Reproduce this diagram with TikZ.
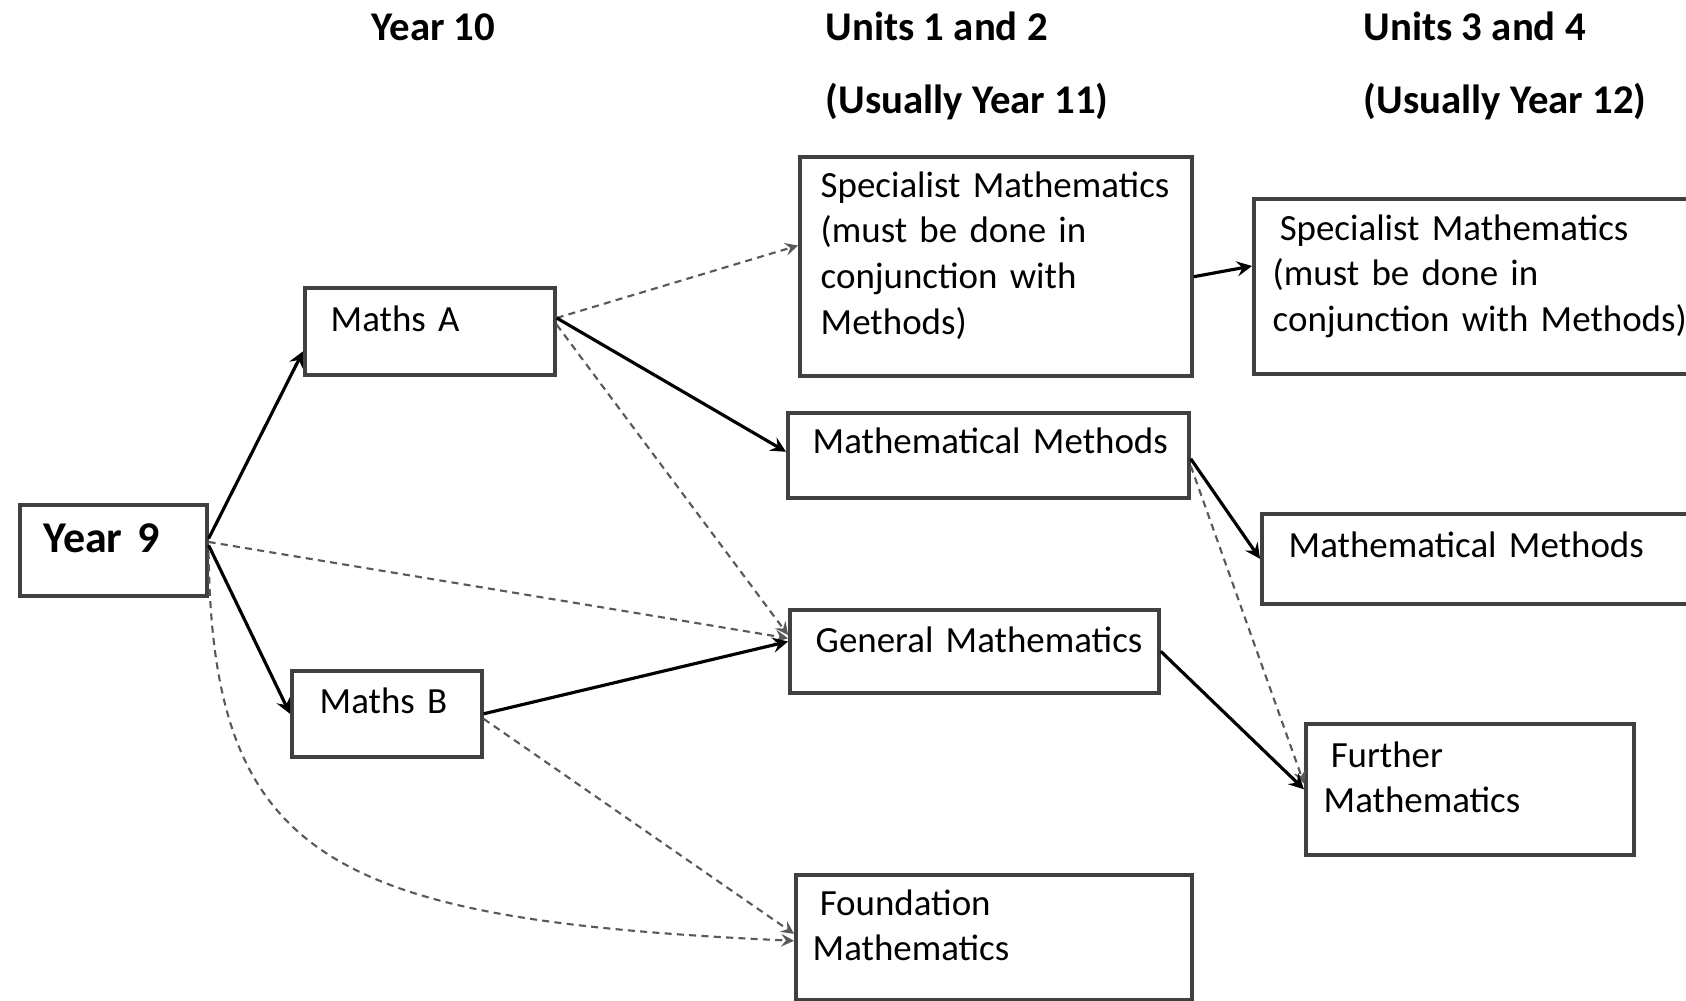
\documentclass[tikz,border=0pt]{standalone}
\usepackage{fontspec}
\setmainfont{Carlito}

\begin{document}
\begin{tikzpicture}[x=0.01cm, y=-0.01cm,
    box/.style={draw=black!75, line width=1pt, anchor=north west, inner sep=0pt},
    txt/.style={anchor=base west, inner sep=0pt, text width=5cm, align=left, font=\fontsize{10.5}{13.04}\selectfont},
    head/.style={anchor=base west, inner sep=0pt, font=\bfseries\fontsize{11.6}{14}\selectfont},
    link/.style={->, >=stealth, line width=0.9pt},
    maybe/.style={->, >=stealth, black!65, line width=0.6pt, dash pattern=on 2pt off 1.5pt}]
    \path[use as bounding box, fill=white] (0,0) rectangle (1686,1000);
    \clip (0,0) rectangle (1686,1000);

    \foreach \n/\x/\y/\w/\h in {year9/18/503/1.87/0.91, mathsA/303/286/2.50/0.87, mathsB/290/669/1.90/0.86,
        spec12/798/155/3.92/2.19, mm12/786/411/4.01/0.85, gen/788/608/3.69/0.83, found/794/873/3.96/1.25,
        spec34/1252/197/4.60/1.75, mm34/1260/512/4.50/0.90, further/1304/722/3.28/1.31} {
        \node[box, minimum width=\w cm, minimum height=\h cm] (\n) at (\x,\y) {};
    }

    \node[head] (h10) at (371,41) {Year 10};
    \node[head] (h12) at (825,41) {Units 1 and 2};
    \node[head] (h12b) at (825,113) {(Usually Year 11)};
    \node[head] (h34) at (1363,41) {Units 3 and 4};
    \node[head] (h34b) at (1363,113) {(Usually Year 12)};

    \node[txt, font=\bfseries\fontsize{12.5}{15}\selectfont] (year9t) at (43,552) {Year 9};
    \node[txt] (mathsAt) at (330,331) {Maths A};
    \node[txt] (mathsBt) at (319,713) {Maths B};
    \node[txt] (spec12t) at (820,197) {Specialist Mathematics\\(must be done in\\conjunction with\\Methods)};
    \node[txt] (mm12t) at (812,453) {Mathematical Methods};
    \node[txt] (gent) at (815,652) {General Mathematics};
    \node[txt] (foundt) at (812,915) {\hspace*{2pt}Foundation\\Mathematics};
    \node[txt] (spec34t) at (1272,240) {\hspace*{2pt}Specialist Mathematics\\(must be done in\\conjunction with Methods)};
    \node[txt] (mm34t) at (1288,557) {Mathematical Methods};
    \node[txt] (furthert) at (1323,767) {\hspace*{2pt}Further\\Mathematics};

    \draw[link] (year9.7) -- (mathsA.189);
    \draw[link] (year9.3) -- (mathsB.west);
    \draw[maybe] (year9.5) -- (gen.176);
    \draw[maybe] (year9.-1) .. controls (212,860) and (330,920) .. (found.181);
    \draw[maybe] (mathsA.6) -- (spec12.174);
    \draw[link] (mathsA.6) -- (mm12.179);
    \draw[maybe] (mathsA.3) -- (gen.175);
    \draw[link] (mathsB.east) -- (gen.177);
    \draw[maybe] (mathsB.-3) -- (found.179);
    \draw[link] (spec12.-3) -- (spec34.175);
    \draw[link] (mm12.-1) -- (mm34.west);
    \draw[maybe] (mm12.-3) -- (further.178);
    \draw[link] (gen.east) -- (further.west);
\end{tikzpicture}
\end{document}
